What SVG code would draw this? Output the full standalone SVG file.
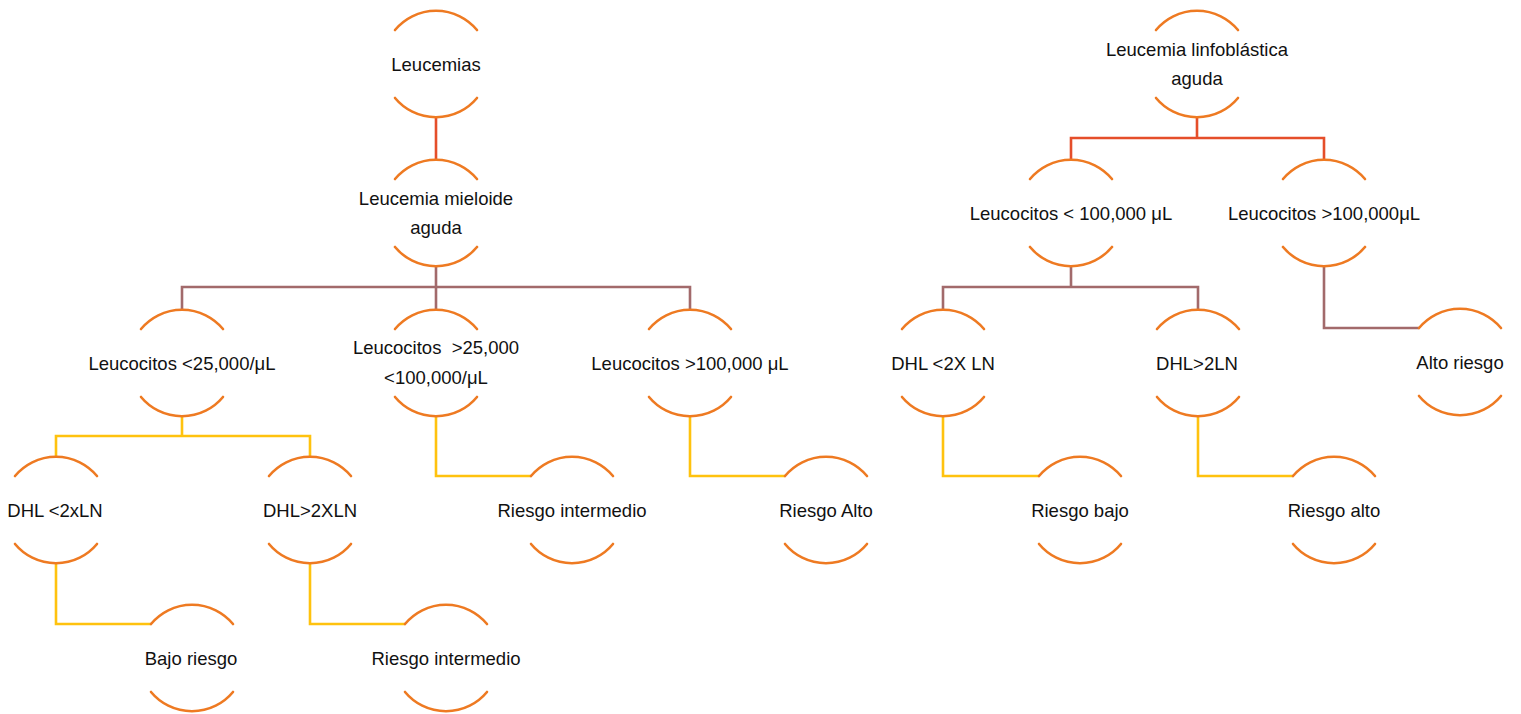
<svg xmlns="http://www.w3.org/2000/svg" xmlns:xlink="http://www.w3.org/1999/xlink" width="1521" height="714" viewBox="0 0 1521 714">
<style>
.arc{fill:none;stroke:#EE7A22;stroke-width:2.6;stroke-linecap:round}
.c{fill:none;stroke-width:2.6;stroke-linejoin:miter}
.red{stroke:#E54E2A}
.brown{stroke:#A26A6B}
.yel{stroke:#FFC20E}
text{font-family:"Liberation Sans",Arial,sans-serif;font-size:18.5px;fill:#111;text-anchor:middle}
</style>
<defs>
<g id="ring">
<path class="arc" d="M-41,-34 A53.3,53.3 0 0 1 41,-34"/>
<path class="arc" d="M-41,34 A53.3,53.3 0 0 0 41,34"/>
</g>
</defs>
<rect width="1521" height="714" fill="#fff"/>
<g id="connectors">
<path class="c red" d="M436,117 V160"/>
<path class="c red" d="M1197,117 V138 M1071,160 V138 H1324 V160"/>
<path class="c brown" d="M436,266 V310 M182,310 V287 H690 V310"/>
<path class="c brown" d="M1071,266 V287 M943,310 V287 H1198 V310"/>
<path class="c brown" d="M1324,266 V328 H1419"/>
<path class="c yel" d="M182,416 V436 M56,458 V436 H310 V458"/>
<path class="c yel" d="M436,416 V476 H531"/>
<path class="c yel" d="M690,416 V476 H785"/>
<path class="c yel" d="M56,563 V624 H151"/>
<path class="c yel" d="M310,563 V624 H405"/>
<path class="c yel" d="M943,416 V476 H1039"/>
<path class="c yel" d="M1198,416 V476 H1293"/>
</g>
<g id="n1"><use xlink:href="#ring" x="436" y="64"/><text x="436" y="71">Leucemias</text></g>
<g id="n2"><use xlink:href="#ring" x="436" y="213"/><text x="436" y="205">Leucemia mieloide</text><text x="436" y="234">aguda</text></g>
<g id="n3"><use xlink:href="#ring" x="182" y="363"/><text x="182" y="370">Leucocitos &lt;25,000/μL</text></g>
<g id="n4"><use xlink:href="#ring" x="436" y="363"/><text x="436" y="354" xml:space="preserve">Leucocitos  &gt;25,000</text><text x="436" y="384">&lt;100,000/μL</text></g>
<g id="n5"><use xlink:href="#ring" x="690" y="363"/><text x="690" y="370">Leucocitos &gt;100,000 μL</text></g>
<g id="n6"><use xlink:href="#ring" x="56" y="510"/><text x="55" y="517">DHL &lt;2xLN</text></g>
<g id="n7"><use xlink:href="#ring" x="310" y="510"/><text x="310" y="517">DHL&gt;2XLN</text></g>
<g id="n8"><use xlink:href="#ring" x="572" y="510"/><text x="572" y="517">Riesgo intermedio</text></g>
<g id="n9"><use xlink:href="#ring" x="826" y="510"/><text x="826" y="517">Riesgo Alto</text></g>
<g id="n10"><use xlink:href="#ring" x="192" y="658"/><text x="191" y="665">Bajo riesgo</text></g>
<g id="n11"><use xlink:href="#ring" x="446" y="658"/><text x="446" y="665">Riesgo intermedio</text></g>
<g id="n12"><use xlink:href="#ring" x="1197" y="64"/><text x="1197" y="56">Leucemia linfoblástica</text><text x="1197" y="85">aguda</text></g>
<g id="n13"><use xlink:href="#ring" x="1071" y="213"/><text x="1071" y="220">Leucocitos &lt; 100,000 μL</text></g>
<g id="n14"><use xlink:href="#ring" x="1324" y="213"/><text x="1324" y="220">Leucocitos &gt;100,000μL</text></g>
<g id="n15"><use xlink:href="#ring" x="943" y="363"/><text x="943" y="370">DHL &lt;2X LN</text></g>
<g id="n16"><use xlink:href="#ring" x="1198" y="363"/><text x="1197" y="370">DHL&gt;2LN</text></g>
<g id="n17"><use xlink:href="#ring" x="1460" y="362"/><text x="1460" y="369">Alto riesgo</text></g>
<g id="n18"><use xlink:href="#ring" x="1080" y="510"/><text x="1080" y="517">Riesgo bajo</text></g>
<g id="n19"><use xlink:href="#ring" x="1334" y="510"/><text x="1334" y="517">Riesgo alto</text></g>
</svg>
